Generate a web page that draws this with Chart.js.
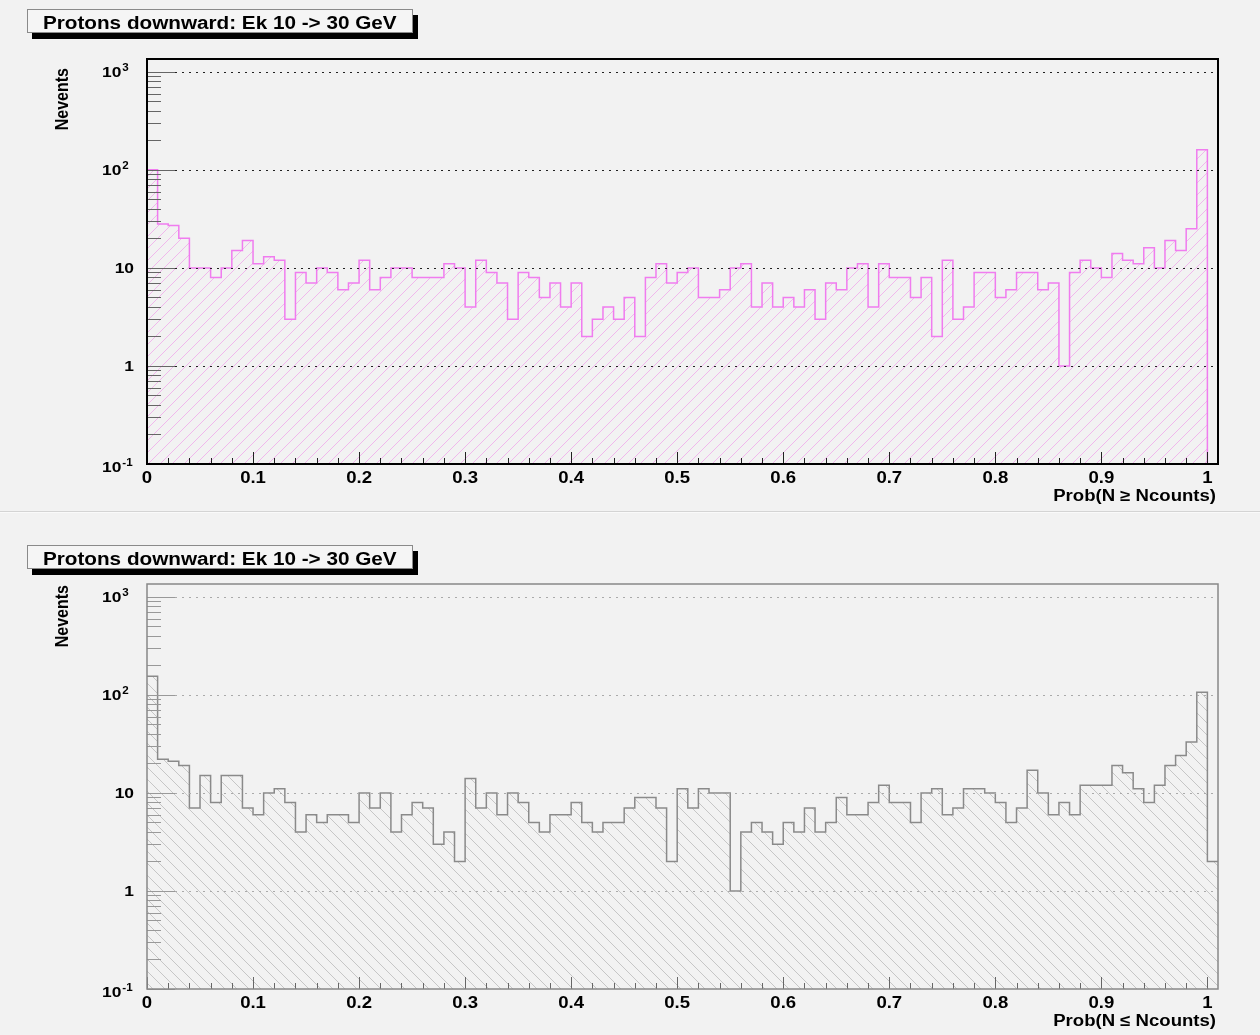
<!DOCTYPE html>
<html>
<head>
<meta charset="utf-8">
<title>Protons downward: Ek 10 -> 30 GeV</title>
<script src="https://cdn.jsdelivr.net/npm/chart.js@4.4.1/dist/chart.umd.min.js"></script>
<style>
  html, body { margin: 0; padding: 0; background: #f2f2f2; }
  #page { position: relative; width: 1260px; height: 1035px; overflow: hidden; background: #f2f2f2;
          font-family: "Liberation Sans", Arial, Helvetica, sans-serif; }
  canvas { position: absolute; left: 0; }
  #sep { position: absolute; left: 0; top: 511px; width: 1260px; height: 1px; background: #d4d4d4;
         border-bottom: 1px solid #fafafa; }
  .hist-title { position: absolute; left: 27px; width: 384px; height: 22px; border: 1px solid #8a8a8a;
                background: #f5f5f5; box-shadow: 5px 6px 0 #000; text-align: center; line-height: 26px;
                font-weight: bold; font-size: 18px; color: #000; white-space: nowrap; overflow: visible; }
  .hist-title span { display: inline-block; transform: scaleX(1.15); transform-origin: center; }
</style>
</head>
<body>
<div id="page">
  <canvas id="cGeq" width="1260" height="512" style="top:0;width:1260px;height:512px"></canvas>
  <div id="sep"></div>
  <canvas id="cLeq" width="1260" height="523" style="top:512px;width:1260px;height:523px"></canvas>
  <div class="hist-title" style="top:9px"><span>Protons downward: Ek 10 -&gt; 30 GeV</span></div>
  <div class="hist-title" style="top:545px"><span>Protons downward: Ek 10 -&gt; 30 GeV</span></div>
</div>
<script>
// Binning: 101 bins of width 0.01 starting at 0 (last bin is [1.00, 1.01])
const BIN_WIDTH = 0.01;
const X_MIN = 0;
const X_MAX = 1.01;
const Y_MIN = 0.1;
const Y_MAX = 1350;

// Events per bin, Prob(N >= Ncounts)
const countsGeq = [
  100, 28, 27, 20, 10, 10, 8, 10, 15, 19,
  11, 13, 12, 3, 9, 7, 10, 9, 6, 7,
  12, 6, 8, 10, 10, 8, 8, 8, 11, 10,
  4, 12, 9, 7, 3, 9, 8, 5, 7, 4,
  7, 2, 3, 4, 3, 5, 2, 8, 11, 7,
  9, 10, 5, 5, 6, 10, 11, 4, 7, 4,
  5, 4, 6, 3, 7, 6, 10, 11, 4, 11,
  8, 8, 5, 8, 2, 12, 3, 4, 9, 9,
  5, 6, 9, 9, 6, 7, 1, 9, 12, 10,
  8, 14, 12, 11, 16, 10, 19, 15, 25, 160,
  0
];

// Events per bin, Prob(N <= Ncounts)
const countsLeq = [
  155, 22, 21, 19, 7, 15, 8, 15, 15, 7,
  6, 10, 11, 8, 4, 6, 5, 6, 6, 5,
  10, 7, 10, 4, 6, 8, 7, 3, 4, 2,
  14, 7, 10, 6, 10, 8, 5, 4, 6, 6,
  8, 5, 4, 5, 5, 7, 9, 9, 7, 2,
  11, 7, 11, 10, 10, 1, 4, 5, 4, 3,
  5, 4, 7, 4, 5, 9, 6, 6, 8, 12,
  8, 8, 5, 10, 11, 6, 7, 11, 11, 10,
  8, 5, 7, 17, 10, 6, 8, 6, 12, 12,
  12, 19, 16, 11, 8, 12, 19, 24, 33, 106,
  2
];

// Axis tick labels
const xTickValues = [0, 0.1, 0.2, 0.3, 0.4, 0.5, 0.6, 0.7, 0.8, 0.9, 1];
const xTickLabels = ['0', '0.1', '0.2', '0.3', '0.4', '0.5', '0.6', '0.7', '0.8', '0.9', '1'];
const yTickValues = [0.1, 1, 10, 100, 1000];
const yTickBases = ['10', '1', '10', '10', '10'];
const yTickExponents = ['-1', '', '', '2', '3'];
const xMinorStep = 0.02;

const FONT = '"Liberation Sans", Arial, Helvetica, sans-serif';
const STRETCH = 1.16;

// Step-histogram points: each bin's count held from its lower edge to the next edge
function histPoints(counts) {
  const pts = counts.map((c, i) => ({ x: X_MIN + i * BIN_WIDTH, y: Math.max(c, Y_MIN) }));
  const last = counts[counts.length - 1];
  pts.push({ x: X_MIN + counts.length * BIN_WIDTH, y: Math.max(last, Y_MIN) });
  return pts;
}

function hatchPattern(ctx, color, forward, step) {
  const tile = document.createElement('canvas');
  tile.width = step; tile.height = step;
  const g = tile.getContext('2d');
  g.strokeStyle = color;
  g.lineWidth = 1;
  g.beginPath();
  for (let k = -1; k <= 1; k++) {
    if (forward) { g.moveTo(k * step, step); g.lineTo(k * step + step, 0); }
    else { g.moveTo(k * step, 0); g.lineTo(k * step + step, step); }
  }
  g.stroke();
  return ctx.createPattern(tile, 'repeat');
}

function stretchedText(ctx, text, x, y, align, size) {
  ctx.save();
  ctx.translate(x, y);
  ctx.scale(STRETCH, 1);
  ctx.font = 'bold ' + size + 'px ' + FONT;
  ctx.textAlign = align;
  ctx.textBaseline = 'middle';
  ctx.fillText(text, 0, 0);
  ctx.restore();
}

// Frame, dotted decade grid, inward ticks and labels in ROOT style
function decorPlugin(style) {
  return {
    id: 'histDecor',
    afterDatasetsDraw(chart) {
      const { ctx, chartArea: a, scales: { x, y } } = chart;
      ctx.save();

      // dotted grid on every decade
      ctx.strokeStyle = style.gridColor;
      ctx.lineWidth = 1.2;
      ctx.setLineDash([2, 5]);
      yTickValues.forEach(v => {
        if (v <= y.min) return;
        const py = Math.round(y.getPixelForValue(v)) + 0.5;
        ctx.beginPath(); ctx.moveTo(a.left, py); ctx.lineTo(a.right, py); ctx.stroke();
      });
      ctx.setLineDash([]);

      // y ticks (log minor ticks 2..9 per decade)
      ctx.strokeStyle = style.tickColor;
      ctx.lineWidth = 1;
      yTickValues.forEach(d => {
        for (let m = 1; m <= 9; m++) {
          const v = d * m;
          if (v > y.max) break;
          const py = Math.round(y.getPixelForValue(v)) + 0.5;
          const len = m === 1 ? 28 : 14;
          ctx.beginPath(); ctx.moveTo(a.left, py); ctx.lineTo(a.left + len, py); ctx.stroke();
        }
      });

      // x ticks
      ctx.strokeStyle = style.xTickColor;
      const nMinor = Math.round(1 / xMinorStep);
      for (let i = 0; i <= nMinor; i++) {
        const v = i * xMinorStep;
        const px = Math.round(x.getPixelForValue(v)) + 0.5;
        const len = (i % 5 === 0) ? 12 : 6;
        ctx.beginPath(); ctx.moveTo(px, a.bottom); ctx.lineTo(px, a.bottom - len); ctx.stroke();
      }

      // frame
      ctx.strokeStyle = style.frameColor;
      ctx.lineWidth = style.frameWidth;
      ctx.strokeRect(a.left, a.top, a.right - a.left, a.bottom - a.top);

      // x labels
      ctx.fillStyle = '#000';
      xTickValues.forEach((v, i) => {
        stretchedText(ctx, xTickLabels[i], x.getPixelForValue(v), a.bottom + 15, 'center', 16);
      });

      // y labels
      yTickValues.forEach((v, i) => {
        let py = y.getPixelForValue(v) + 1;
        if (v === y.min) py += 3;
        const base = yTickBases[i], ex = yTickExponents[i];
        if (ex) {
          stretchedText(ctx, base, 102, py, 'left', 15);
          ctx.font = 'bold 15px ' + FONT;
          const bw = ctx.measureText(base).width * STRETCH;
          stretchedText(ctx, ex, 102 + bw + 1, py - 5, 'left', 10);
        } else {
          stretchedText(ctx, base, 134, py, 'right', 15);
        }
      });

      // axis titles
      stretchedText(ctx, style.xTitle, a.right - 2, a.bottom + 33, 'right', 16);
      ctx.save();
      ctx.translate(63, style.yTitleTop);
      ctx.rotate(-Math.PI / 2);
      ctx.scale(1, STRETCH);
      ctx.font = 'bold 16px ' + FONT;
      ctx.textAlign = 'right';
      ctx.textBaseline = 'middle';
      ctx.fillText('Nevents', 0, 0);
      ctx.restore();

      ctx.restore();
    }
  };
}

function makeHist(canvasId, counts, opts) {
  const canvas = document.getElementById(canvasId);
  const ctx = canvas.getContext('2d');
  return new Chart(ctx, {
    type: 'line',
    data: {
      datasets: [{
        data: histPoints(counts),
        stepped: true,
        borderColor: opts.lineColor,
        borderWidth: opts.lineWidth,
        pointRadius: 0,
        fill: 'start',
        backgroundColor: hatchPattern(ctx, opts.hatchColor, opts.hatchForward, 12)
      }]
    },
    options: {
      responsive: false,
      animation: false,
      devicePixelRatio: 1,
      layout: { padding: opts.padding },
      plugins: { legend: { display: false }, tooltip: { enabled: false } },
      scales: {
        x: {
          type: 'linear', min: X_MIN, max: X_MAX,
          grid: { display: false }, border: { display: false }, ticks: { display: false },
          afterFit(s) { s.height = 40; }
        },
        y: {
          type: 'logarithmic', min: Y_MIN, max: Y_MAX,
          grid: { display: false }, border: { display: false }, ticks: { display: false },
          afterFit(s) { s.width = 100; }
        }
      }
    },
    plugins: [decorPlugin(opts)]
  });
}

makeHist('cGeq', countsGeq, {
  lineColor: '#f07cef', lineWidth: 1.5, hatchColor: '#f0b8ec', hatchForward: true,
  gridColor: '#222', tickColor: '#666', xTickColor: '#222', frameColor: '#000', frameWidth: 2,
  xTitle: 'Prob(N \u2265 Ncounts)', yTitleTop: 68,
  padding: { left: 47, right: 42, top: 59, bottom: 8 }
});

makeHist('cLeq', countsLeq, {
  lineColor: '#8a8a8a', lineWidth: 1.5, hatchColor: '#c6c6c6', hatchForward: false,
  gridColor: '#aaa', tickColor: '#999', xTickColor: '#666', frameColor: '#888', frameWidth: 1.5,
  xTitle: 'Prob(N \u2264 Ncounts)', yTitleTop: 73,
  padding: { left: 47, right: 42, top: 72, bottom: 6 }
});
</script>
</body>
</html>
